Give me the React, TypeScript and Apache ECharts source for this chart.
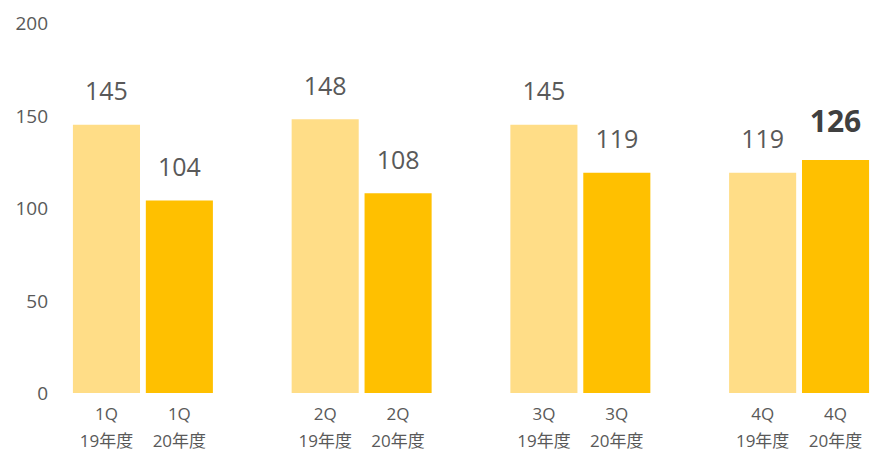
import React, { useEffect, useRef } from "react";
import * as echarts from "echarts";

const categories = ["1Q\n19年度", "1Q\n20年度", "", "2Q\n19年度", "2Q\n20年度", "", "3Q\n19年度", "3Q\n20年度", "", "4Q\n19年度", "4Q\n20年度"];
const values: (number | null)[] = [145, 104, null, 148, 108, null, 145, 119, null, 119, 126];
const yearKind = ["19", "20", "", "19", "20", "", "19", "20", "", "19", "20"];
const highlightIndex = 10;
const yTicks = [0, 50, 100, 150, 200];

const LIGHT = "#FFDD87";
const DARK = "#FFC000";

export default function App() {
  const ref = useRef<HTMLDivElement>(null);
  useEffect(() => {
    if (!ref.current) return;
    const chart = echarts.init(ref.current, undefined, { renderer: "svg" });
    const font = "'Open Sans', 'Noto Sans CJK JP', sans-serif";
    chart.setOption({
      animation: false,
      textStyle: { fontFamily: font },
      grid: { left: 70, right: 0, top: 23, bottom: 61, containLabel: false },
      xAxis: {
        type: "category",
        data: categories,
        axisLine: { show: false },
        axisTick: { show: false },
        axisLabel: {
          color: "#595959",
          fontSize: 17,
          lineHeight: 27,
          margin: 7,
          interval: 0,
          fontFamily: font,
        },
      },
      yAxis: {
        type: "value",
        min: yTicks[0],
        max: yTicks[yTicks.length - 1],
        interval: 50,
        axisLine: { show: false },
        axisTick: { show: false },
        splitLine: { show: false },
        axisLabel: { color: "#595959", fontSize: 19, margin: 22, fontFamily: font },
      },
      series: [
        {
          type: "bar",
          barCategoryGap: "8%",
          data: values.map((v, i) => ({
            value: v,
            itemStyle: { color: yearKind[i] === "19" ? LIGHT : DARK },
            label:
              i === highlightIndex
                ? { fontWeight: "bold", fontSize: 30, color: "#404040", distance: 24 }
                : undefined,
          })),
          label: {
            show: true,
            position: "top",
            distance: 22,
            fontSize: 25,
            color: "#595959",
            fontFamily: font,
          },
        },
      ],
    });
    return () => chart.dispose();
  }, []);
  return <div ref={ref} style={{ width: 872, height: 454, position: "absolute", left: 0, top: 0 }} />;
}
